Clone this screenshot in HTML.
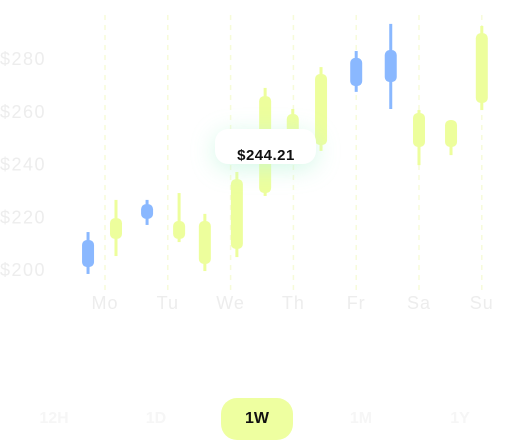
<!DOCTYPE html>
<html><head><meta charset="utf-8"><style>
html,body{margin:0;padding:0;background:#fff;width:514px;height:443px;overflow:hidden;font-family:"Liberation Sans",sans-serif}
svg{position:absolute;left:0;top:0}
.tab{position:absolute;top:398px;height:42px;width:72px;border-radius:16px;font-size:16px;font-weight:bold;text-align:center;line-height:42px;color:#f6f6f6}
</style></head><body>
<svg id="chart" width="514" height="443">
<defs><filter id="glow" x="-50%" y="-80%" width="200%" height="260%"><feGaussianBlur stdDeviation="12"/></filter></defs>
<g id="grid"></g><g id="ylabels"></g><g id="xlabels"></g><g id="candles"></g>
<g>
<rect x="215" y="134" width="101" height="34" rx="14" fill="#bff5dc" opacity="0.7" filter="url(#glow)"/>
<rect x="215" y="129" width="101" height="35" rx="13" fill="#fff"/>
<text x="266" y="160" text-anchor="middle" font-size="15" font-weight="bold" letter-spacing="0.5" fill="#111">$244.21</text>
</g>
</svg>
<div class="tab" style="left:18px">12H</div>
<div class="tab" style="left:120px">1D</div>
<div class="tab" style="left:221px;background:#eeffa0;color:#111">1W</div>
<div class="tab" style="left:325px">1M</div>
<div class="tab" style="left:424px">1Y</div>
<script>
const days=["Mo","Tu","We","Th","Fr","Sa","Su"];
const yTicks=[200,220,240,260,280];
const candleSlots=[-0.27,0.175,0.67,1.18,1.59,2.1,2.55,2.99,3.44,4.0,4.55,5.0,5.51,6.0];
const opens =[201.1,211.8,219.4,218.6,202.3,208.0,229.2,245.5,247.4,269.8,271.3,259.6,256.9,263.4];
const closes=[211.4,219.7,225.0,211.8,218.6,234.5,266.0,259.2,274.4,280.5,283.5,246.7,246.7,289.9];
const highs =[214.4,226.6,226.6,229.2,221.3,237.2,269.1,261.1,277.0,283.1,293.4,260.7,256.9,292.6];
const lows  =[198.5,205.3,217.1,210.6,199.6,204.9,228.1,243.6,245.2,267.6,261.1,239.8,243.6,260.7];
const blue=[1,0,1,0,0,0,0,0,0,1,1,0,0,0];
const NS="http://www.w3.org/2000/svg";
function y(v){return 270-(v-200)*2.635;}
function x(i){return 105+i*62.8;}
function mk(t,a,p){const e=document.createElementNS(NS,t);for(const k in a)e.setAttribute(k,a[k]);p.appendChild(e);return e;}
const g=document.getElementById('grid'),yl=document.getElementById('ylabels'),xl=document.getElementById('xlabels'),cg=document.getElementById('candles');
days.forEach((d,i)=>{
 const l=mk('line',{x1:x(i),x2:x(i),y1:15,y2:290,stroke:'#f7fbd8','stroke-width':1.5,'stroke-dasharray':'5 5'},g);
 
 
 const t=mk('text',{x:x(i),y:309,'text-anchor':'middle','font-size':18,'letter-spacing':1,fill:'#ededed'},xl);t.textContent=d;
 
 
});
yTicks.forEach(v=>{
 const t=mk('text',{x:0,y:y(v)+6,'font-size':18,'letter-spacing':1.5,fill:'#ededed'},yl);t.textContent='$'+v;
 
 
});
candleSlots.forEach((s,i)=>{
 const cx=x(s),col=blue[i]?'#8ab8ff':'#edfe9c';
 const grp=mk('g',{},cg);
 
 
 mk('rect',{x:cx-1.5,y:y(highs[i]),width:3,height:y(lows[i])-y(highs[i]),fill:col},grp);
 const top=y(Math.max(opens[i],closes[i])),bot=y(Math.min(opens[i],closes[i]));
 mk('rect',{x:cx-6,y:top,width:12,height:bot-top,rx:5,fill:col},grp);
});
</script>
</body></html>
